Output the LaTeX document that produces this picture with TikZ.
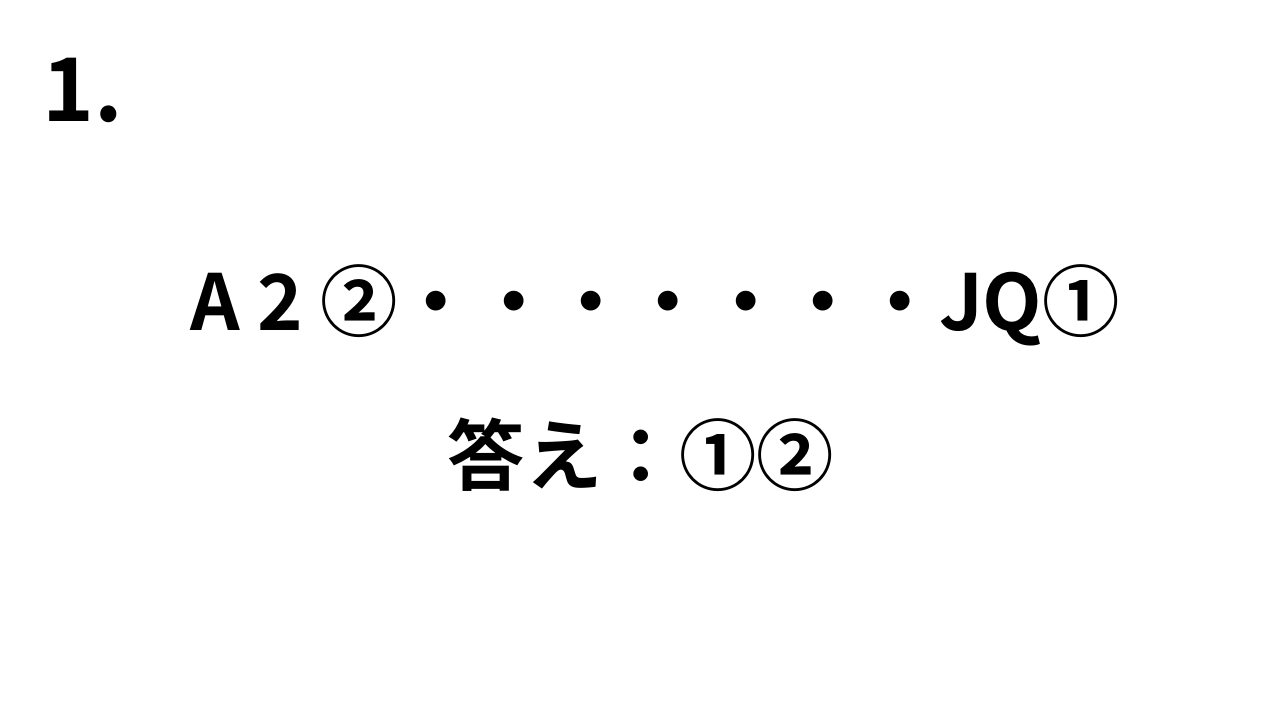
\documentclass[tikz,border=0pt]{standalone}
\usepackage{fontspec}
\newfontfamily\jpfont{Noto Sans CJK JP}[BoldFont={Noto Sans CJK JP Bold}]
\usetikzlibrary{positioning}
\tikzset{
    bigtext/.style={font=\jpfont\bfseries\fontsize{22}{26}\selectfont, inner sep=0pt}
}

\begin{document}
\begin{tikzpicture}
    % page
    \useasboundingbox[fill=white] (0,0) rectangle (12.8,7.2);

    % number
    \node[bigtext, anchor=west, font=\jpfont\bfseries\fontsize{25}{30}\selectfont] (num) at (0.42,6.3) {1.};

    % sequence
    \node[bigtext] (seq) at (6.55,4.15) {A 2 ②・・・・・・・JQ①};

    % answer
    \node[bigtext] (ans) at (6.41,2.65) {答え：①②};
\end{tikzpicture}
\end{document}
